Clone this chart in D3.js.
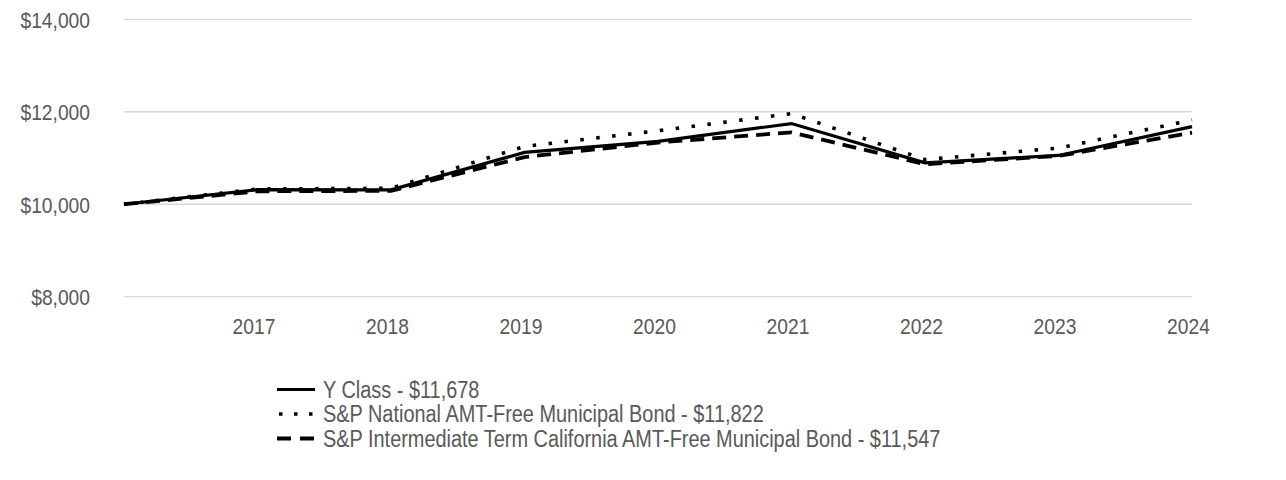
<!DOCTYPE html>
<html><head><meta charset="utf-8">
<script src="https://cdn.jsdelivr.net/npm/d3@7"></script>
<style>html,body{margin:0;padding:0;background:#fff;}svg{display:block;}</style>
</head><body>
<svg id="c" width="1286" height="480"></svg>
<script>
const categories = ["2016","2017","2018","2019","2020","2021","2022","2023","2024"];
const tickLabels = ["2017","2018","2019","2020","2021","2022","2023","2024"];
const yClass = [10000,10315,10310,11120,11360,11745,10895,11055,11678];
const spNational = [10000,10330,10345,11250,11590,11960,10965,11215,11822];
const spCalifornia = [10000,10280,10290,11020,11335,11555,10865,11045,11547];
const yTicks = [8000,10000,12000,14000];
const seriesNames = ["Y Class - $11,678","S&P National AMT-Free Municipal Bond - $11,822","S&P Intermediate Term California AMT-Free Municipal Bond - $11,547"];

const svg = d3.select("#c");
const font = "'Liberation Sans', Arial, sans-serif";
const SX = 0.855;
const x = d3.scalePoint().domain(categories).range([124,1192]);
const y = d3.scaleLinear().domain([8000,14000]).range([296.7,19.3]);

svg.append("g").selectAll("line").data(yTicks).join("line")
  .attr("x1",124).attr("x2",1192)
  .attr("y1",d=>y(d)).attr("y2",d=>y(d))
  .attr("stroke","#d9d9d9").attr("stroke-width",1.3);

const yAxis = svg.append("g").attr("transform","translate(90,1)")
  .call(d3.axisLeft(y).tickValues(yTicks).tickSize(0).tickPadding(0).tickFormat(d=>"$"+d3.format(",")(d)));
yAxis.select(".domain").remove();
yAxis.selectAll("text").attr("font-family",font).attr("font-size",22.5).attr("fill","#595959")
  .attr("transform",`scale(${SX},1)`);

const xAxis = svg.append("g").attr("transform","translate(-4,314)")
  .call(d3.axisBottom(x).tickValues(tickLabels).tickSize(0).tickPadding(4));
xAxis.select(".domain").remove();
xAxis.selectAll("text").attr("font-family",font).attr("font-size",22.5).attr("fill","#595959")
  .attr("transform",`scale(${SX},1)`);

const styles = [
  {data:yClass, dash:null, w:3.2},
  {data:spNational, dash:"3.5,12.5", w:3.6},
  {data:spCalifornia, dash:"14,8", w:3.8}
];
const line = d3.line().x((d,i)=>x(categories[i])).y(d=>y(d));
[2,1,0].forEach(k=>{
  const s = styles[k];
  svg.append("path").datum(s.data).attr("d",line)
    .attr("fill","none").attr("stroke","#000").attr("stroke-width",s.w)
    .attr("stroke-dasharray",s.dash).attr("stroke-linejoin","miter");
});

const lg = svg.append("g");
const legDash = [null,"3.5,11.5","14,9"];
seriesNames.forEach((n,i)=>{
  const yy = 389.5 + i*24.5;
  lg.append("line").attr("x1",i===1?279:277).attr("x2",315).attr("y1",yy).attr("y2",yy)
    .attr("stroke","#000").attr("stroke-width",styles[i].w).attr("stroke-dasharray",legDash[i]);
  lg.append("text").attr("transform",`translate(323,${yy}) scale(0.866,1)`).attr("dy","0.35em")
    .attr("font-family",font).attr("font-size",23).attr("fill","#595959").text(n);
});
</script>
</body></html>
